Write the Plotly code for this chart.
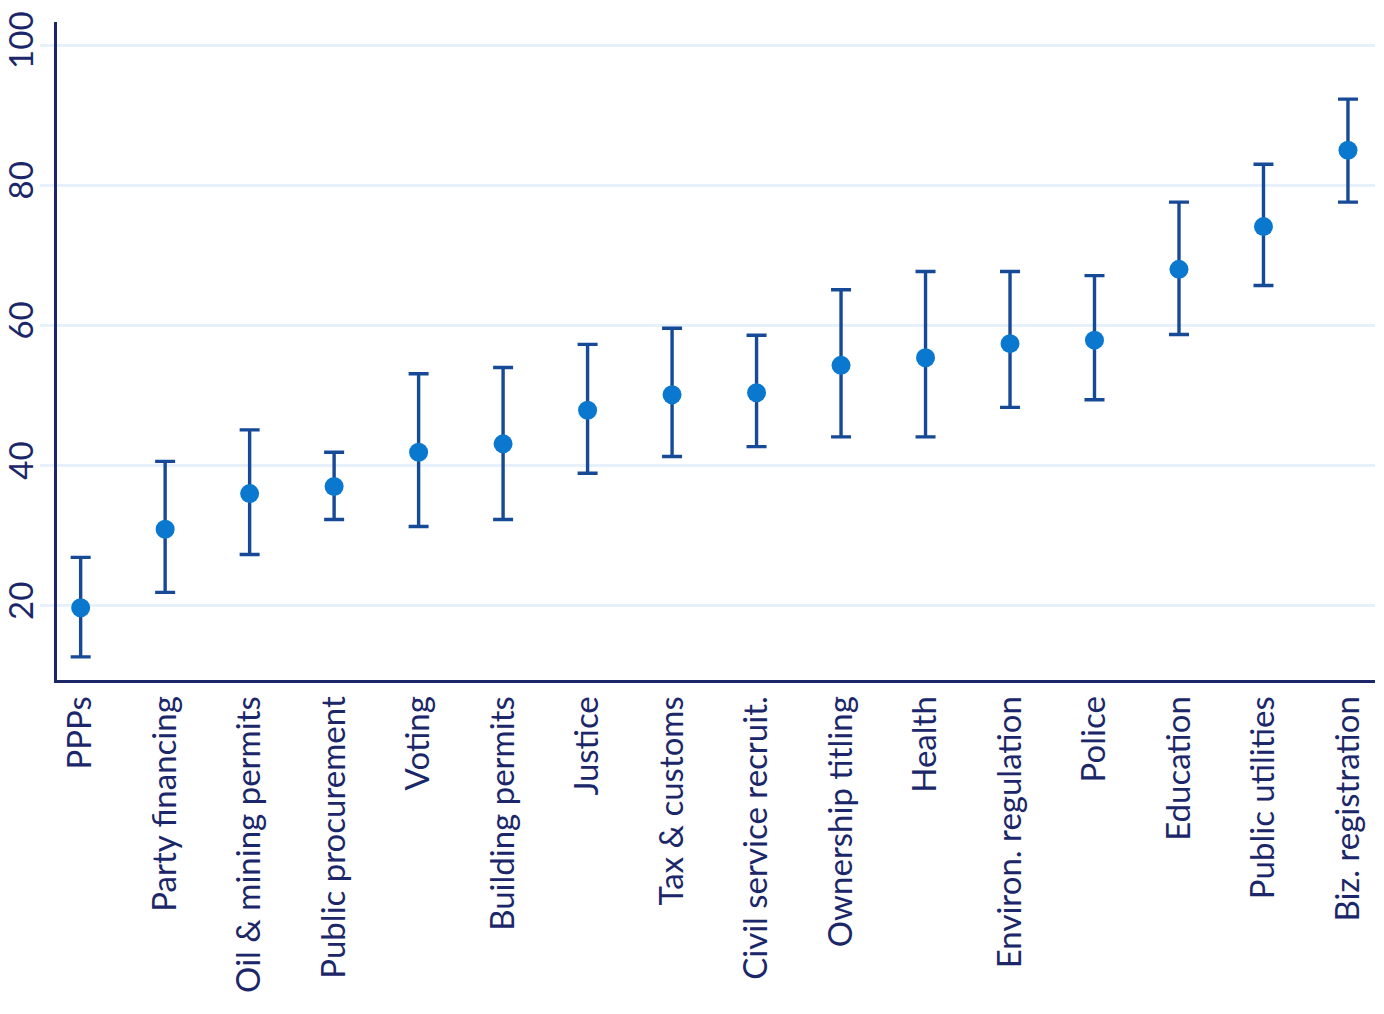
import plotly.graph_objects as go

categories = ["PPPs", "Party financing", "Oil & mining permits", "Public procurement",
              "Voting", "Building permits", "Justice", "Tax & customs",
              "Civil service recruit.", "Ownership titling", "Health",
              "Environ. regulation", "Police", "Education", "Public utilities",
              "Biz. registration"]
values = [19.7, 30.9, 36.0, 37.0, 41.9, 43.1, 47.9, 50.1, 50.4, 54.3, 55.4, 57.4, 57.9, 68.0, 74.1, 85.0]
upper = [26.9, 40.6, 45.1, 41.9, 53.1, 54.0, 57.3, 59.6, 58.6, 65.1, 67.7, 67.7, 67.1, 77.6, 83.0, 92.3]
lower = [12.7, 21.9, 27.3, 32.3, 31.3, 32.3, 38.9, 41.3, 42.7, 44.1, 44.1, 48.3, 49.4, 58.7, 65.7, 77.6]
y_ticks = [20, 40, 60, 80, 100]

err_plus = [u - v for u, v in zip(upper, values)]
err_minus = [v - l for v, l in zip(values, lower)]

navy = "#1b2769"
fig = go.Figure()
fig.add_trace(go.Scatter(
    x=categories, y=values, mode="markers",
    marker=dict(size=19, color="#0a78cf"),
    error_y=dict(type="data", symmetric=False, array=err_plus, arrayminus=err_minus,
                 color="#174a96", thickness=3.4, width=10),
    showlegend=False,
))
fig.update_layout(
    width=1384, height=1014,
    margin=dict(l=57, r=9, t=22, b=334),
    paper_bgcolor="white", plot_bgcolor="white",
    font=dict(family="Lato", size=33, color=navy),
    xaxis=dict(range=[-0.28, 15.32], showgrid=False, showline=True, linecolor=navy,
               linewidth=3, tickangle=-90, ticks="", zeroline=False, automargin=False),
    yaxis=dict(range=[9.4, 103.3], tickvals=y_ticks, showgrid=True, gridcolor="#e6f1fb",
               gridwidth=3, showline=True, linecolor=navy, linewidth=3, tickangle=-90,
               ticks="outside", ticklen=14, tickcolor="#e6f1fb", tickwidth=3,
               zeroline=False, automargin=False, ticklabelstandoff=-6),
)
fig.write_html("out.html", config={"displayModeBar": False},
               post_script="document.body.style.margin='0';")
